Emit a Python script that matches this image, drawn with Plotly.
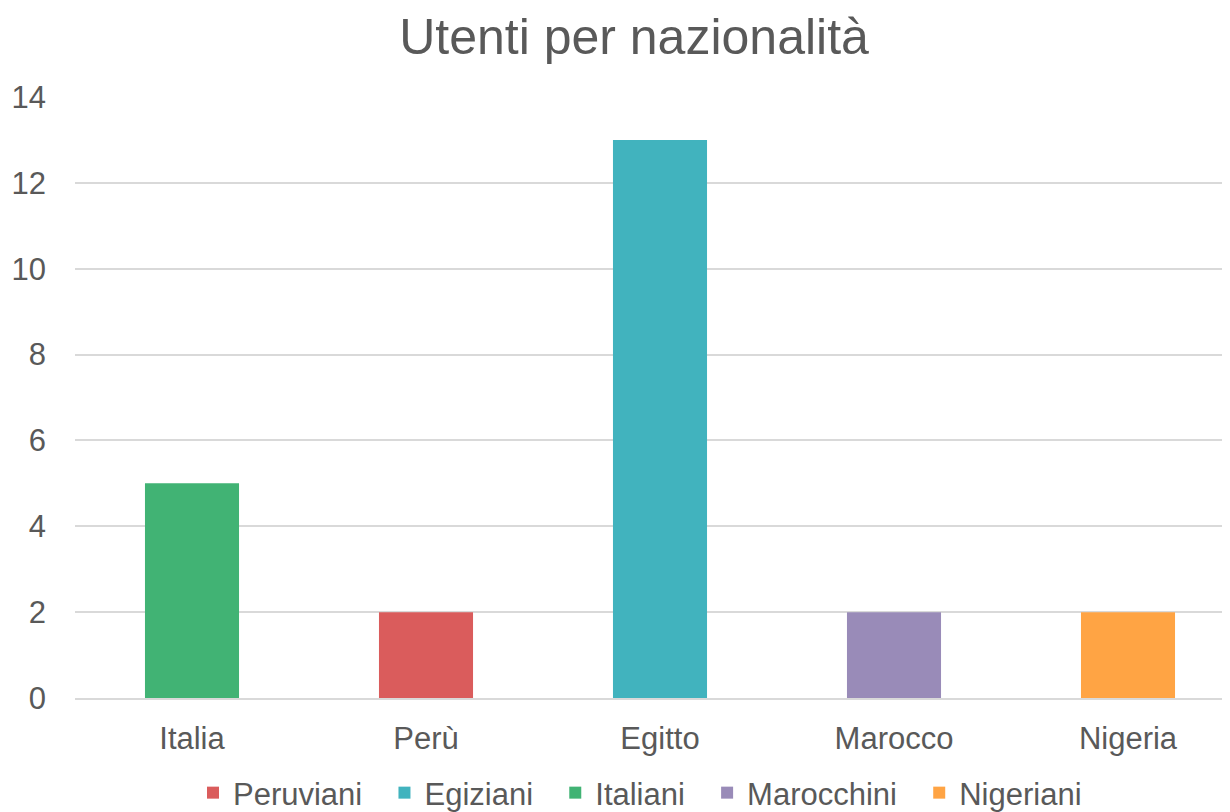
import plotly.graph_objects as go

categories = ["Italia", "Perù", "Egitto", "Marocco", "Nigeria"]
series_names = ["Peruviani", "Egiziani", "Italiani", "Marocchini", "Nigeriani"]
series_category = ["Perù", "Egitto", "Italia", "Marocco", "Nigeria"]
series_values = [2, 13, 5, 2, 2]
series_colors = ["#DA5C5C", "#41B3BE", "#41B374", "#998BB8", "#FFA444"]

fig = go.Figure()
for i, (name, cat, val, col) in enumerate(zip(series_names, series_category, series_values, series_colors)):
    label = name + ("\u00a0\u00a0" if i < len(series_names) - 1 else "")
    fig.add_trace(go.Bar(name=label, x=[cat], y=[val], marker=dict(color=col, line=dict(width=0)),
                         width=0.402))

# page has an 8px body margin; figure is sized to fill the rest of the window
W, H = 1222, 804
L, T, B = 67, 89, 114
PH = H - T - B
font = "Liberation Sans, Arial, sans-serif"
fig.update_layout(
    width=W, height=H,
    paper_bgcolor="white", plot_bgcolor="white",
    barmode="overlay",
    margin=dict(l=L, r=0, t=T, b=B, autoexpand=False),
    title=dict(text="Utenti per nazionalità", x=626 / W, xref="container", xanchor="center",
               y=1 - 28 / H, yref="container", yanchor="middle",
               font=dict(family=font, size=50, color="#595959")),
    font=dict(family=font, color="#595959"),
    xaxis=dict(categoryorder="array", categoryarray=categories, tickfont=dict(size=31, color="#595959"),
               range=[-0.5, -0.5 + (W - L) / 234],
               showgrid=False, showline=True, linecolor="#D9D9D9", linewidth=2, ticks="",
               ticklabelstandoff=12, automargin=False),
    yaxis=dict(range=[0, 14], dtick=2, tickfont=dict(size=31, color="#595959"),
               showgrid=True, gridcolor="#D9D9D9", gridwidth=2, zeroline=False,
               ticklabelstandoff=28, automargin=False),
    legend=dict(orientation="h", x=(632 - L) / (W - L), xanchor="center",
                y=-95 / PH, yanchor="middle", font=dict(size=31, color="#595959"),
                traceorder="normal", itemwidth=30),
    showlegend=True,
)
fig.write_html("out.html")
